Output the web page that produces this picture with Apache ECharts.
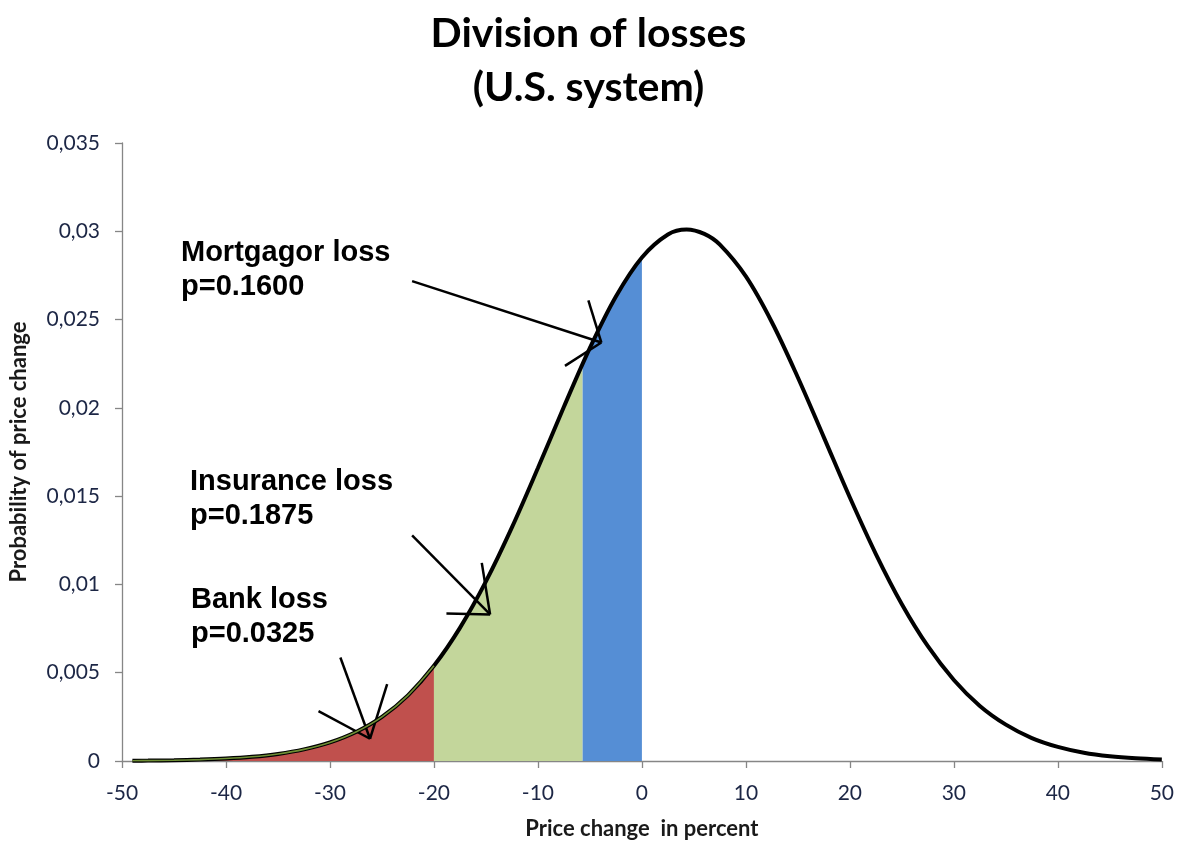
<!DOCTYPE html>
<html>
<head>
<meta charset="utf-8">
<style>html,body{margin:0;padding:0;background:#fff;}#c{width:1177px;height:845px;}</style>
<script src="https://cdn.jsdelivr.net/npm/echarts@6/dist/echarts.min.js"></script>
</head>
<body>
<div id="c"></div>
<script>
// Price change in percent (x) and probability (y)
const priceChange = [-49,-47.5,-45,-42.5,-40,-37.5,-35,-32.5,-30,-27.5,-25,-22.5,-20,-17.5,-15,-12.5,-10,-7.5,-5,-2.5,0,2.5,4.3,6,7.5,10,12.5,15,17.5,20,22.5,25,27.5,30,32.5,35,37.5,40,42.5,45,47.5,50];
const probability = [0.000016,0.000023,0.000043,0.000078,0.000138,0.000239,0.000401,0.000658,0.001053,0.001645,0.00250,0.00372,0.00539,0.00754,0.01017,0.01323,0.01659,0.02006,0.02340,0.02631,0.02852,0.02982,0.03010,0.02985,0.02924,0.02744,0.02485,0.02172,0.01833,0.01492,0.01172,0.00888,0.00650,0.00459,0.00312,0.00206,0.00130,0.00080,0.00047,0.00027,0.00015,0.00008];
// Loss zones (insurance/mortgagor boundary at -5.7 where the curve reads 0.0226)
const zoneNames = ['Bank loss', 'Insurance loss', 'Mortgagor loss'];
const zoneP = ['0.0325', '0.1875', '0.1600'];
const zoneStart = [-49, -20, -5.7];
const zoneEnd = [-20, -5.7, 0];
const zoneBoundaryValue = 0.0226;
const zoneColors = ['#c0504d', '#c3d69b', '#558ed5'];
// Arrow annotations (data coordinates): shaft start, tip, arm A, arm B
const arrowShaftStart = [[-29.0, 0.00586], [-22.1, 0.01278], [-22.1, 0.02718]];
const arrowTip = [[-26.15, 0.00126], [-14.6, 0.0083], [-3.9, 0.0237]];
const arrowArmA = [[-24.5, 0.00436], [-15.4, 0.01122], [-5.15, 0.02609]];
const arrowArmB = [[-31.1, 0.00282], [-18.8, 0.00835], [-7.4, 0.02238]];
const yTicks = ['0','0,005','0,01','0,015','0,02','0,025','0,03','0,035'];

const pts = priceChange.map((x, i) => [x, probability[i]]);
const SM = 0.35;

function zoneData(k) {
  const d = pts.filter(p => p[0] > zoneStart[k] - 1e-9 && p[0] < zoneEnd[k] + 1e-9);
  if (zoneEnd[k] === -5.7) d.push([-5.7, zoneBoundaryValue]);
  if (zoneStart[k] === -5.7) d.unshift([-5.7, zoneBoundaryValue]);
  return d;
}

const areaSeries = zoneNames.map((name, k) => ({
  type: 'line', name: name, smooth: SM, symbol: 'none', silent: true,
  data: zoneData(k),
  lineStyle: { width: 0 },
  areaStyle: { color: zoneColors[k], opacity: 1 },
  z: 1
}));

const arrowLines = [];
for (let i = 0; i < arrowTip.length; i++) {
  arrowLines.push([{ coord: arrowShaftStart[i] }, { coord: arrowTip[i] }]);
  arrowLines.push([{ coord: arrowArmA[i] }, { coord: arrowTip[i] }]);
  arrowLines.push([{ coord: arrowArmB[i] }, { coord: arrowTip[i] }]);
}

const chart = echarts.init(document.getElementById('c'), null, { renderer: 'canvas' });
const labelFont = '"Liberation Sans", Arial, sans-serif';
const option = {
  animation: false,
  backgroundColor: '#ffffff',
  title: {
    text: 'Division of losses\n(U.S. system)',
    left: 'center', top: 2,
    textStyle: { fontFamily: 'Lato', fontWeight: 'bold', fontSize: 41, lineHeight: 54, color: '#000' }
  },
  grid: { left: 121, right: 15, top: 143, bottom: 81 },
  xAxis: {
    type: 'value', min: -50, max: 50, interval: 10,
    name: 'Price change  in percent', nameLocation: 'middle', nameGap: 57,
    nameTextStyle: { fontFamily: 'Lato', fontWeight: 'bold', fontSize: 22, color: '#1a1a1a' },
    axisLine: { show: true, onZero: false, lineStyle: { color: '#868686', width: 1.3 } },
    axisTick: { show: true, length: 7, lineStyle: { color: '#868686', width: 1.3 } },
    axisLabel: { fontFamily: 'Lato', fontSize: 21, color: '#1c2645', margin: 22 },
    splitLine: { show: false }
  },
  yAxis: {
    type: 'value', min: 0, max: 0.035, interval: 0.005,
    name: 'Probability of price change', nameLocation: 'middle', nameGap: 92, nameRotate: 90,
    nameTextStyle: { fontFamily: 'Lato', fontWeight: 'bold', fontSize: 22, color: '#1a1a1a' },
    axisLine: { show: true, onZero: false, lineStyle: { color: '#868686', width: 1.3 } },
    axisTick: { show: true, length: 7, lineStyle: { color: '#868686', width: 1.3 } },
    axisLabel: { fontFamily: 'Lato', fontSize: 21, color: '#1c2645', margin: 22,
      formatter: (v) => yTicks[Math.round(v / 0.005)] },
    splitLine: { show: false }
  },
  graphic: [
    { type: 'text', left: 181, top: 236, z: 100,
      style: { text: zoneNames[2] + '\np=' + zoneP[2], font: 'bold 29px ' + labelFont, lineHeight: 34, fill: '#000' } },
    { type: 'text', left: 190, top: 465, z: 100,
      style: { text: zoneNames[1] + '\np=' + zoneP[1], font: 'bold 29px ' + labelFont, lineHeight: 34, fill: '#000' } },
    { type: 'text', left: 191, top: 583, z: 100,
      style: { text: zoneNames[0] + '\np=' + zoneP[0], font: 'bold 29px ' + labelFont, lineHeight: 34, fill: '#000' } }
  ],
  series: areaSeries.concat([
    {
      type: 'line', name: 'curve', smooth: SM, symbol: 'none', silent: true,
      data: pts, lineStyle: { color: '#000', width: 4 }, z: 5,
      markLine: {
        silent: true, symbol: ['none', 'none'], animation: false,
        label: { show: false },
        lineStyle: { color: '#000', width: 2.5, type: 'solid' },
        data: arrowLines
      }
    },
    {
      type: 'line', name: 'bankEdge', smooth: SM, symbol: 'none', silent: true,
      data: pts.filter(p => p[0] <= zoneEnd[0] + 1e-9),
      lineStyle: { color: '#6f8f35', width: 1.6 }, z: 6
    }
  ])
};
chart.setOption(option);
</script>
</body>
</html>
